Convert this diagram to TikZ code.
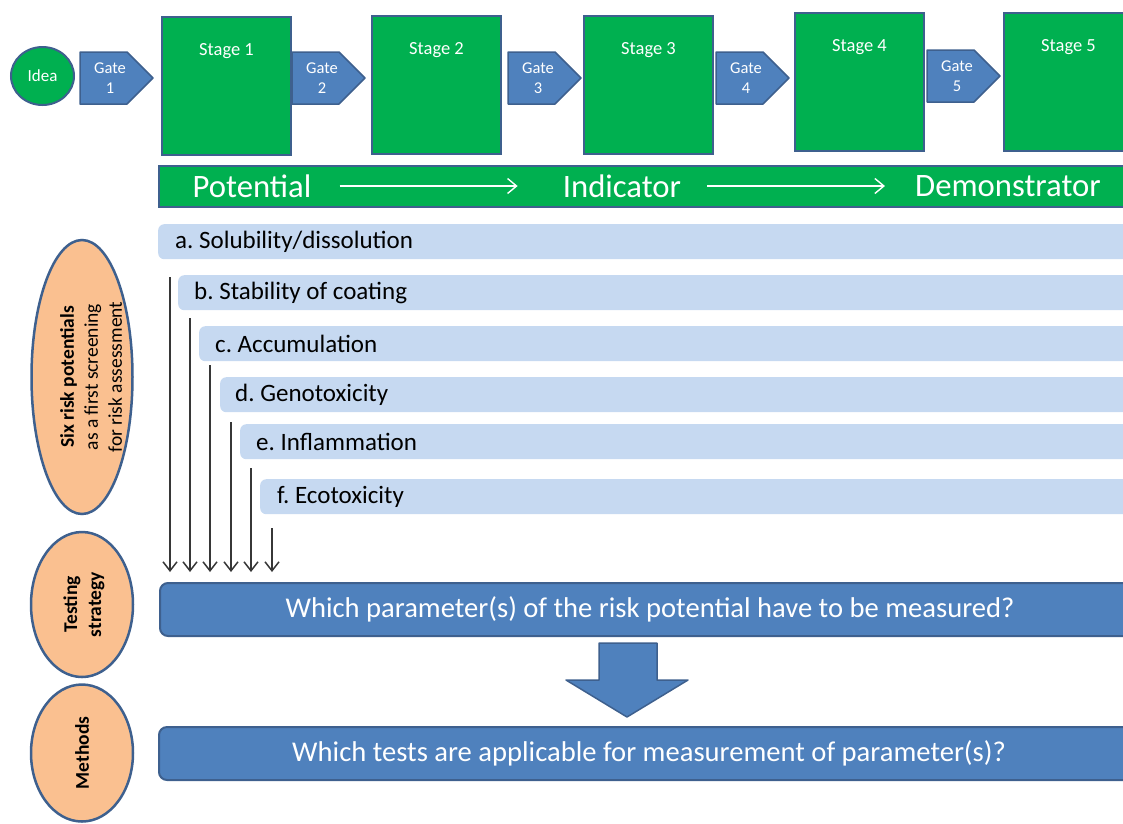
\documentclass[tikz,border=0pt]{standalone}
\usepackage{fontspec}
\setmainfont{Carlito}
\usepackage{tikz}
\usetikzlibrary{positioning, shapes.geometric, calc, arrows.meta}
\frenchspacing
\definecolor{rsGreen}{RGB}{0, 176, 80}
\definecolor{rsEdge}{RGB}{62, 96, 142}
\definecolor{rsBlue}{RGB}{79, 129, 189}
\definecolor{rsPale}{RGB}{198, 217, 241}
\definecolor{rsPeach}{RGB}{250, 192, 144}
\definecolor{rsGray}{RGB}{55, 55, 55}
\tikzset{
    base/.style={
        align=center,
        inner sep=0pt
    },
    idea/.style={
        base,
        ellipse,
        draw=rsEdge,
        line width=2pt,
        fill=rsGreen,
        text=white,
        font=\fontsize{17}{20}\selectfont,
        minimum width=63pt,
        minimum height=58pt
    },
    stage/.style={
        base,
        rectangle,
        draw=rsEdge,
        line width=2pt,
        fill=rsGreen,
        anchor=north west,
        minimum width=129pt,
        minimum height=138pt
    },
    stagetext/.style={
        base,
        text=white,
        font=\fontsize{18.5}{22}\selectfont
    },
    gate/.style={
        draw=rsEdge,
        line width=1.5pt,
        fill=rsBlue,
        line join=round
    },
    gatetext/.style={
        base,
        text=white,
        font=\fontsize{16.5}{20}\selectfont
    },
    phasebar/.style={
        base,
        rectangle,
        draw=rsEdge,
        line width=2pt,
        fill=rsGreen,
        anchor=north west,
        minimum height=41pt
    },
    phasetext/.style={
        base,
        text=white,
        font=\fontsize{32.7}{36}\selectfont
    },
    phaseflow/.style={
        -{Straight Barb[length=9pt, width=15pt, line width=1.4pt]},
        line width=1.4pt,
        color=white
    },
    riskbar/.style={
        base,
        rectangle,
        rounded corners=6pt,
        fill=rsPale,
        anchor=north west,
        minimum height=35pt
    },
    risktext/.style={
        base,
        anchor=west,
        text=black,
        font=\fontsize{25}{30}\selectfont
    },
    riskflow/.style={
        -{Straight Barb[length=9pt, width=14pt, line width=1.5pt]},
        line width=1.5pt,
        color=rsGray,
        shorten >=10pt
    },
    question/.style={
        base,
        rectangle,
        rounded corners=8pt,
        draw=rsEdge,
        line width=2pt,
        fill=rsBlue,
        text=white,
        anchor=north west,
        minimum height=53pt,
        font=\fontsize{28.6}{34}\selectfont
    },
    blockarrow/.style={
        draw=rsEdge,
        line width=1.5pt,
        fill=rsBlue,
        line join=round
    },
    oval/.style={
        base,
        ellipse,
        draw=rsEdge,
        line width=2.5pt,
        fill=rsPeach
    },
    ovaltext/.style={
        base,
        rotate=90,
        text=black,
        font=\fontsize{19.5}{24}\selectfont
    }
}

\begin{document}
\begin{tikzpicture}[x=1pt, y=-1pt]
  \useasboundingbox (0,0) rectangle (1123,823);

  % Stage-gate row
  \node[idea] (idea) at (42.5,76) {Idea};
  \foreach \i/\gx/\gy in {1/80/52, 2/292/52, 3/508/52, 4/716/52, 5/927/50} {
    \draw[gate] (\gx,\gy) -- ++(47,0) -- ++(26,26) -- ++(-26,26) -- ++(-47,0) -- cycle;
    \node[gatetext] (g\i) at (\gx+30,\gy+26) {Gate\\\i};
  }
  \node[stage] (s1) at (161,16) {};
  \node[stage] (s2) at (371,15) {};
  \node[stage] (s3) at (583,15) {};
  \node[stage] (s4) at (794,12) {};
  \node[stage] (s5) at (1003,12) {};
  \foreach \i in {1,...,5} {
    \node[stagetext] (s\i t) at ([yshift=-35pt]s\i.north) {Stage \i};
  }

  % Phases
  \node[phasebar, minimum width=980pt] (phase) at (158,165) {};
  \node[phasetext] (pot) at (252,186) {Potential};
  \node[phasetext] (ind) at (622,186) {Indicator};
  \node[phasetext] (dem) at (1008,186) {Demonstrator};
  \draw[phaseflow, shorten <=28pt, shorten >=45pt] (pot.east) -- (ind.west);
  \draw[phaseflow, shorten <=26pt, shorten >=30pt] (ind.east) -- (dem.west);

  % Six risk potentials
  \node[riskbar, minimum width=980pt] (ra) at (158,224) {};
  \node[riskbar, minimum width=960pt] (rb) at (178,275) {};
  \node[riskbar, minimum width=940pt] (rc) at (199,326) {};
  \node[riskbar, minimum width=920pt] (rd) at (220,377) {};
  \node[riskbar, minimum width=900pt] (re) at (240,424) {};
  \node[riskbar, minimum width=880pt] (rf) at (260,479) {};
  \node[risktext] (la) at ([xshift=17pt]ra.west) {a. Solubility/dissolution};
  \node[risktext] (lb) at ([xshift=16pt]rb.west) {b. Stability of coating};
  \node[risktext] (lc) at ([xshift=16pt]rc.west) {c. Accumulation};
  \node[risktext] (ld) at ([xshift=15pt]rd.west) {d. Genotoxicity};
  \node[risktext] (le) at ([xshift=16pt]re.west) {e. Inflammation};
  \node[risktext] (lf) at ([xshift=17pt]rf.west) {f. Ecotoxicity};

  % Testing strategy and methods
  \node[question, minimum width=980pt] (q1) at (159,582) {Which parameter(s) of the risk potential have to be measured?};
  \node[question, minimum width=980pt] (q2) at (158,726) {Which tests are applicable for measurement of parameter(s)?};
  \draw[blockarrow] (599,643) -- (657,643) -- (657,680) -- (688,680) -- (627,717) -- (566,680) -- (599,680) -- cycle;

  % Arrows into the testing strategy
  \coordinate (ta) at (170,277);
  \coordinate (tb) at (190,318);
  \coordinate (tc) at (210,365);
  \coordinate (td) at (231,422);
  \coordinate (te) at (251,468);
  \coordinate (tf) at (272,528);
  \foreach \k in {a,...,f} {
    \draw[riskflow] (t\k) -- (t\k |- q1.north);
  }

  % Left column
  \node[oval, minimum width=101pt, minimum height=274pt] (e1) at (82,377) {};
  \node[ovaltext] (e1t) at ([xshift=9pt]e1.center) {\textbf{Six risk potentials}\\as a first screening\\for risk assessment};
  \node[oval, minimum width=102pt, minimum height=145pt] (e2) at (82,604.5) {};
  \node[ovaltext] (e2t) at ([xshift=2pt]e2.center) {\textbf{Testing}\\\textbf{strategy}};
  \node[oval, minimum width=102pt, minimum height=137pt] (e3) at (82,753) {};
  \node[ovaltext] (e3t) at (e3.center) {\textbf{Methods}};
\end{tikzpicture}
\end{document}
